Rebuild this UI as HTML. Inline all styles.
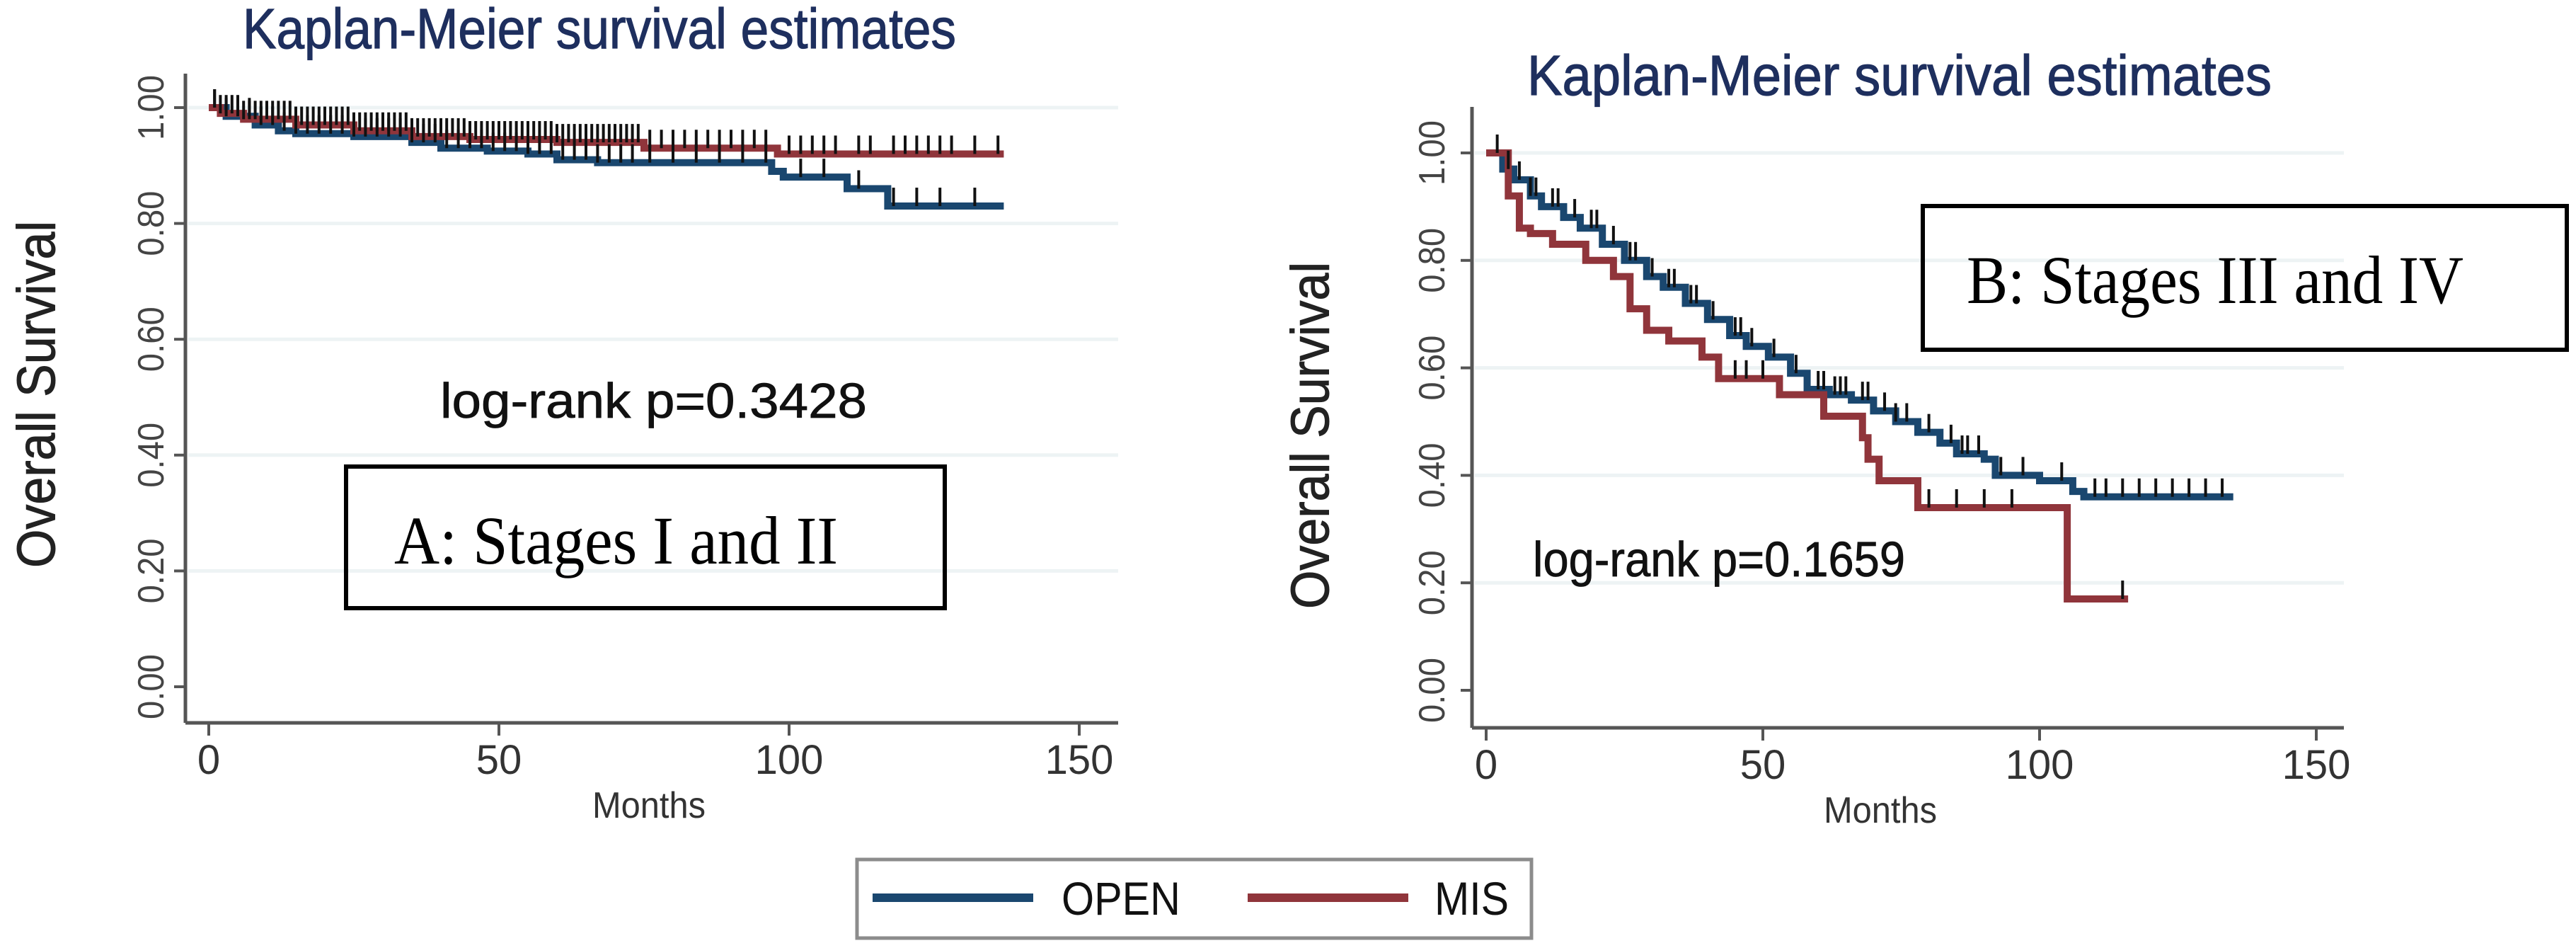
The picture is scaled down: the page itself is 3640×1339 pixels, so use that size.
<!DOCTYPE html>
<html><head><meta charset="utf-8"><style>
html,body{margin:0;padding:0;background:#fff;width:3640px;height:1339px;overflow:hidden}
svg text{font-family:"Liberation Sans",sans-serif}
.serif{font-family:"Liberation Serif",serif}
</style></head><body>
<svg id="fig" width="3640" height="1339" viewBox="0 0 3640 1339" xmlns="http://www.w3.org/2000/svg"></svg>
<script>
// ---- Data ----
const xTicks = [0, 50, 100, 150];
const yTicks = [0, 0.2, 0.4, 0.6, 0.8, 1.0];
const yTickLabels = ["0.00", "0.20", "0.40", "0.60", "0.80", "1.00"];
// Panel A (Stages I and II)
const aOpenTimes = [0, 3, 8, 12, 15, 25, 35, 40, 48, 55, 60, 67, 97, 99, 110, 117, 137];
const aOpenSurv  = [1.0, 0.985, 0.97, 0.96, 0.955, 0.95, 0.94, 0.93, 0.925, 0.92, 0.91, 0.905, 0.89, 0.88, 0.86, 0.83, 0.83];
const aMisTimes = [0, 2, 6, 15, 25, 35, 45, 60, 75, 98, 137];
const aMisSurv  = [1.0, 0.99, 0.98, 0.97, 0.96, 0.95, 0.945, 0.94, 0.93, 0.92, 0.92];
const aCensor = [1,2,3,4,5,6,7,8,9,10,11,12,13,14,15,16,17,18,19,20,21,22,23,24,25,26,27,28,29,30,31,32,33,34,35,36,37,38,39,40,41,42,43,44,45,46,47,48,49,50,51,52,53,54,55,56,57,58,59,60,61,62,63,64,65,66,67,68,69,70,71,72,73,74,76,78,80,82,84,86,88,90,92,94,96,100,102,104,106,108,112,114,118,120,122,124,126,128,132,136];
// Panel B (Stages III and IV)
const bOpenTimes = [0, 3, 5, 8, 10, 14, 17, 21, 25, 29, 32, 36, 40, 44, 47, 51, 55, 58, 62, 66, 70, 74, 78, 82, 85, 90, 92, 100, 106, 108, 135];
const bOpenSurv  = [1.0, 0.97, 0.95, 0.92, 0.90, 0.88, 0.86, 0.83, 0.80, 0.77, 0.75, 0.72, 0.69, 0.66, 0.64, 0.62, 0.59, 0.56, 0.55, 0.54, 0.52, 0.50, 0.48, 0.46, 0.44, 0.43, 0.40, 0.39, 0.37, 0.36, 0.36];
const bMisTimes = [0, 4, 6, 8, 12, 18, 23, 26, 29, 33, 39, 42, 53, 61, 68, 69, 71, 78, 105, 116];
const bMisSurv  = [1.0, 0.92, 0.86, 0.85, 0.83, 0.80, 0.77, 0.71, 0.67, 0.65, 0.62, 0.58, 0.55, 0.51, 0.47, 0.43, 0.39, 0.34, 0.17, 0.17];
const bOpenCensor = [2,4,6,8,9,12,13,16,19,20,23,26,27,30,33,34,37,38,41,45,46,48,52,56,60,61,63,64,65,68,69,72,74,76,80,84,86,87,89,93,97,104,110,112,115,118,121,124,127,130,133];
const bMisCensor = [45,47,50,80,85,90,95,115];

const NS = "http://www.w3.org/2000/svg";
const svg = document.getElementById("fig");
function el(tag, attrs, parent, text){
  const e = document.createElementNS(NS, tag);
  for (const k in attrs) e.setAttribute(k, attrs[k]);
  if (text !== undefined) e.textContent = text;
  (parent || svg).appendChild(e);
  return e;
}
const BLUE = "#1a476f", RED = "#90353b";

function stepAt(times, surv, t){
  let s = surv[0];
  for (let i = 0; i < times.length; i++) if (times[i] <= t) s = surv[i];
  return s;
}

function panel(cfg){
  const g = el("g", {});
  
  
  const X = m => cfg.x0 + (m / 150) * (cfg.x150 - cfg.x0);
  const Y = v => cfg.y0 - v * (cfg.y0 - cfg.y1);
  const t = el("text", {x: cfg.titleX, y: cfg.titleY, "font-size": 80, fill: "#1e2f5e", stroke: "#1e2f5e", "stroke-width": 1.2, textLength: cfg.titleW, lengthAdjust: "spacingAndGlyphs"}, g, "Kaplan-Meier survival estimates");
  
  
  yTicks.forEach((v, i) => {
    if (v > 0) {
      const gl = el("line", {x1: cfg.axisX + 4, x2: cfg.axisRight, y1: Y(v), y2: Y(v), stroke: "#edf3f4", "stroke-width": 5}, g);
      
      
    }
    const tk = el("line", {x1: cfg.axisX - 16, x2: cfg.axisX, y1: Y(v), y2: Y(v), stroke: "#555", "stroke-width": 4}, g);
    
    
    const lx = cfg.ytlX, ly = Y(v);
    const lb = el("text", {x: lx, y: ly, "font-size": 52, fill: "#444", "text-anchor": "middle", "dominant-baseline": "central", transform: `rotate(-90 ${lx} ${ly})`, textLength: 92, lengthAdjust: "spacingAndGlyphs"}, g, yTickLabels[i]);
    
    
  });
  const ya = el("line", {x1: cfg.axisX, x2: cfg.axisX, y1: cfg.axisTop, y2: cfg.axisY, stroke: "#555", "stroke-width": 5}, g);
  
  
  const xa = el("line", {x1: cfg.axisX, x2: cfg.axisRight, y1: cfg.axisY, y2: cfg.axisY, stroke: "#555", "stroke-width": 5}, g);
  
  
  xTicks.forEach(m => {
    const tk = el("line", {x1: X(m), x2: X(m), y1: cfg.axisY, y2: cfg.axisY + 18, stroke: "#555", "stroke-width": 4}, g);
    
    
    const lb = el("text", {x: X(m), y: cfg.axisY + 72, "font-size": 58, fill: "#333", "text-anchor": "middle"}, g, String(m));
    
    
  });
  const xt = el("text", {x: cfg.monthsX, y: cfg.axisY + 134, "font-size": 52, fill: "#333", "text-anchor": "middle", textLength: 160, lengthAdjust: "spacingAndGlyphs"}, g, "Months");
  
  
  const yt = el("text", {x: cfg.ylabX, y: cfg.ylabY, "font-size": 76, fill: "#222", stroke: "#222", "stroke-width": 1, "text-anchor": "middle", "dominant-baseline": "central", transform: `rotate(-90 ${cfg.ylabX} ${cfg.ylabY})`, textLength: 490, lengthAdjust: "spacingAndGlyphs"}, g, "Overall Survival");
  
  
  function curve(times, surv, color, name){
    let d = `M${X(times[0])},${Y(surv[0])}`;
    for (let i = 1; i < times.length; i++) d += ` H${X(times[i])} V${Y(surv[i])}`;
    const p = el("path", {d: d, fill: "none", stroke: color, "stroke-width": 10}, g);
    
    
  }
  curve(cfg.openT, cfg.openS, BLUE, "open-curve");
  curve(cfg.misT, cfg.misS, RED, "mis-curve");
  function censor(list, times, surv){
    list.forEach(c => {
      const s = stepAt(times, surv, c);
      const m = el("line", {x1: X(c), x2: X(c), y1: Y(s) - 26, y2: Y(s), stroke: "#111", "stroke-width": 4}, g);
      
      
    });
  }
  cfg.censors.forEach(c => censor(c[0], c[1], c[2]));
  const lr = el("text", {x: cfg.lrX, y: cfg.lrY, "font-size": 70, fill: "#111", stroke: "#111", "stroke-width": 0.8, textLength: cfg.lrW, lengthAdjust: "spacingAndGlyphs"}, g, cfg.lrText);
  
  
  const bx = el("rect", {x: cfg.box[0], y: cfg.box[1], width: cfg.box[2], height: cfg.box[3], fill: "none", stroke: "#000", "stroke-width": 6}, g);
  
  
  const bt = el("text", {x: cfg.boxText[0], y: cfg.boxText[1], "font-size": 96, fill: "#000", "class": "serif", textLength: cfg.boxText[2], lengthAdjust: "spacingAndGlyphs"}, g, cfg.boxLabel);
  
  
}

panel({name: "panel-a", x0: 295, x150: 1525, y0: 970, y1: 152, axisX: 262, axisTop: 104, axisY: 1021, axisRight: 1580,
  titleX: 343, titleY: 68, titleW: 1008, ytlX: 214, monthsX: 917, ylabX: 52, ylabY: 557,
  openT: aOpenTimes, openS: aOpenSurv, misT: aMisTimes, misS: aMisSurv,
  censors: [[aCensor, aMisTimes, aMisSurv], [aCensor.filter((c,i)=>i%2==0), aOpenTimes, aOpenSurv]],
  lrText: "log-rank p=0.3428", lrX: 622, lrY: 590, lrW: 603,
  box: [489, 659, 846, 200], boxText: [557, 796, 627], boxLabel: "A: Stages I and II"});

panel({name: "panel-b", x0: 2100, x150: 3273, y0: 975, y1: 216, axisX: 2080, axisTop: 151, axisY: 1028, axisRight: 3312,
  titleX: 2158, titleY: 134, titleW: 1052, ytlX: 2024, monthsX: 2657, ylabX: 1852, ylabY: 615,
  openT: bOpenTimes, openS: bOpenSurv, misT: bMisTimes, misS: bMisSurv,
  censors: [[bOpenCensor, bOpenTimes, bOpenSurv], [bMisCensor, bMisTimes, bMisSurv]],
  lrText: "log-rank p=0.1659", lrX: 2166, lrY: 814, lrW: 526,
  box: [2717, 291, 910, 203], boxText: [2779, 428, 702], boxLabel: "B: Stages III and IV"});

const lg = el("g", {});


const lr = el("rect", {x: 1211, y: 1214, width: 953, height: 111, fill: "#fff", stroke: "#8c8c8c", "stroke-width": 5}, lg);


const l1 = el("line", {x1: 1233, x2: 1460, y1: 1268, y2: 1268, stroke: BLUE, "stroke-width": 12}, lg);


const t1 = el("text", {x: 1500, y: 1292, "font-size": 66, fill: "#111", textLength: 168, lengthAdjust: "spacingAndGlyphs"}, lg, "OPEN");


const l2 = el("line", {x1: 1763, x2: 1990, y1: 1268, y2: 1268, stroke: RED, "stroke-width": 12}, lg);


const t2 = el("text", {x: 2027, y: 1292, "font-size": 66, fill: "#111", textLength: 105, lengthAdjust: "spacingAndGlyphs"}, lg, "MIS");


</script>
</body></html>
